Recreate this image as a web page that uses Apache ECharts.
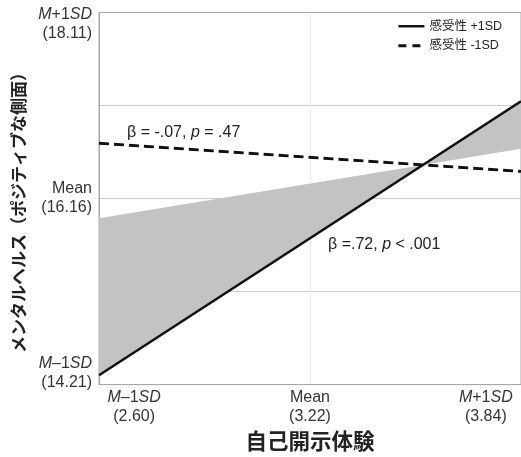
<!DOCTYPE html>
<html><head><meta charset="utf-8">
<script src="https://cdn.jsdelivr.net/npm/echarts@6/dist/echarts.min.js"></script>
<style>html,body{margin:0;padding:0;background:#fff}#c{width:521px;height:457px}</style>
</head><body><div id="c"></div>
<script>
// Axis extents (plot edges: mean ± about 1.2 SD)
const xExtent = [2.476, 3.964];
const yExtent = [14.08, 18.24];
// Tick values and labels
const xTickValues = [2.60, 3.22, 3.84];
const xTickNames = ['M–1SD', 'Mean', 'M+1SD'];
const xTickNumbers = ['(2.60)', '(3.22)', '(3.84)'];
const xGridValues = [3.22];
const yTickValues = [14.21, 16.16, 18.11];
const yTickNames = ['M–1SD', 'Mean', 'M+1SD'];
const yTickNumbers = ['(14.21)', '(16.16)', '(18.11)'];
const yGridValues = [15.12, 16.16, 17.20];
// Series values, at the two x-extent edges
const seriesNames = ['感受性 +1SD', '感受性 -1SD'];
const highY = [14.185, 17.248];   // 感受性 +1SD (solid)
const lowY = [16.778, 16.463];    // 感受性 -1SD (dashed)
const shadeBoundY = [15.939, 16.717]; // second edge of grey band
const annotations = ['β = -.07, {i|p} = .47', 'β =.72, {i|p} < .001'];

const FONT = "'Liberation Sans', Arial, 'Noto Sans CJK JP', sans-serif";
const CJK = "'Noto Sans CJK JP', sans-serif";

function fmtName(s) {
  if (s === 'Mean') return s;
  return '{i|M}' + s.slice(1, s.length - 2) + '{i|SD}';
}
function makeFormatter(vals, names, nums) {
  return function (v) {
    let k = -1;
    vals.forEach((t, i) => { if (Math.abs(t - v) < 1e-6) k = i; });
    if (k < 0) return '';
    return fmtName(names[k]) + '\n' + nums[k];
  };
}
const rich = { i: { fontStyle: 'italic', fontSize: 16, fontFamily: FONT, color: '#333', lineHeight: 19 } };

const chart = echarts.init(document.getElementById('c'), null, { renderer: 'canvas' });
chart.setOption({
  backgroundColor: '#fff',
  animation: false,
  grid: { left: 99, right: -5, top: 12.5, bottom: 65, show: true, borderColor: '#a6a6a6', borderWidth: 1 },
  legend: {
    orient: 'vertical', right: 14, top: 15, itemWidth: 26, itemHeight: 12, itemGap: 7,
    data: [
      { name: seriesNames[0], itemStyle: { opacity: 0 }, lineStyle: { color: '#111', width: 2.5, type: 'solid' } },
      { name: seriesNames[1], itemStyle: { opacity: 0 }, lineStyle: { color: '#111', width: 2.8, type: [8, 6] } }
    ],
    textStyle: { fontSize: 12.5, fontFamily: FONT, color: '#222' }
  },
  xAxis: {
    type: 'value', min: xExtent[0], max: xExtent[1],
    name: '自己開示体験', nameLocation: 'middle', nameGap: 42,
    nameTextStyle: { fontSize: 21.5, fontWeight: 'bold', fontFamily: CJK, color: '#222' },
    axisLine: { show: true, lineStyle: { color: '#a6a6a6' } },
    axisTick: { show: false, customValues: xGridValues },
    splitLine: { show: true, lineStyle: { color: '#ececec' } },
    axisLabel: {
      customValues: xTickValues, margin: 3,
      formatter: makeFormatter(xTickValues, xTickNames, xTickNumbers),
      fontSize: 16, fontFamily: FONT, color: '#333', lineHeight: 19, rich: rich
    }
  },
  yAxis: {
    type: 'value', min: yExtent[0], max: yExtent[1],
    name: 'メンタルヘルス（ポジティブな側面）', nameLocation: 'middle', nameGap: 66, nameRotate: 90,
    nameTextStyle: { fontSize: 17, fontWeight: 'bold', fontFamily: CJK, color: '#222', padding: [0, 20, 0, 0] },
    axisLine: { show: true, lineStyle: { color: '#a6a6a6' } },
    axisTick: { show: false, customValues: yGridValues },
    splitLine: { show: true, lineStyle: { color: '#cccccc' } },
    axisLabel: {
      customValues: yTickValues, margin: 7, align: 'right',
      formatter: makeFormatter(yTickValues, yTickNames, yTickNumbers),
      fontSize: 16, fontFamily: FONT, color: '#333', lineHeight: 19, rich: rich
    }
  },
  series: [
    {
      type: 'custom', name: 'shade', silent: true, z: 1,
      data: xExtent.map((x, i) => [x, highY[i], shadeBoundY[i]]),
      encode: { x: 0, y: [1, 2] },
      renderItem: function (params, api) {
        if (params.dataIndex !== 0) return null;
        const x0 = xExtent[0], x1 = xExtent[1];
        const sA = (highY[1] - highY[0]) / (x1 - x0);
        const sB = (shadeBoundY[1] - shadeBoundY[0]) / (x1 - x0);
        const xi = x0 + (shadeBoundY[0] - highY[0]) / (sA - sB);
        const yi = highY[0] + sA * (xi - x0);
        const p = (a, b) => api.coord([a, b]);
        const fill = { fill: '#c3c3c3' };
        return {
          type: 'group', children: [
            { type: 'polygon', shape: { points: [p(x0, shadeBoundY[0]), p(x0, highY[0]), p(xi, yi)] }, style: fill },
            { type: 'polygon', shape: { points: [p(xi, yi), p(x1, highY[1]), p(x1, shadeBoundY[1])] }, style: fill }
          ]
        };
      }
    },
    {
      type: 'line', name: seriesNames[0], z: 3, symbol: 'none',
      data: xExtent.map((x, i) => [x, highY[i]]),
      lineStyle: { color: '#111', width: 2.5 }, itemStyle: { color: '#111' }
    },
    {
      type: 'line', name: seriesNames[1], z: 3, symbol: 'none',
      data: xExtent.map((x, i) => [x, lowY[i]]),
      lineStyle: { color: '#111', width: 2.8, type: [10, 5] }, itemStyle: { color: '#111' }
    }
  ],
  graphic: [
    { type: 'text', x: 127, y: 133, z: 10, style: { text: annotations[0], fontSize: 16, fontFamily: FONT, fill: '#222', verticalAlign: 'middle', align: 'left', rich: { i: { fontStyle: 'italic', fontSize: 16, fontFamily: FONT, fill: '#222' } } } },
    { type: 'text', x: 328, y: 245, z: 10, style: { text: annotations[1], fontSize: 16, fontFamily: FONT, fill: '#222', verticalAlign: 'middle', align: 'left', rich: { i: { fontStyle: 'italic', fontSize: 16, fontFamily: FONT, fill: '#222' } } } }
  ]
});
</script></body></html>
